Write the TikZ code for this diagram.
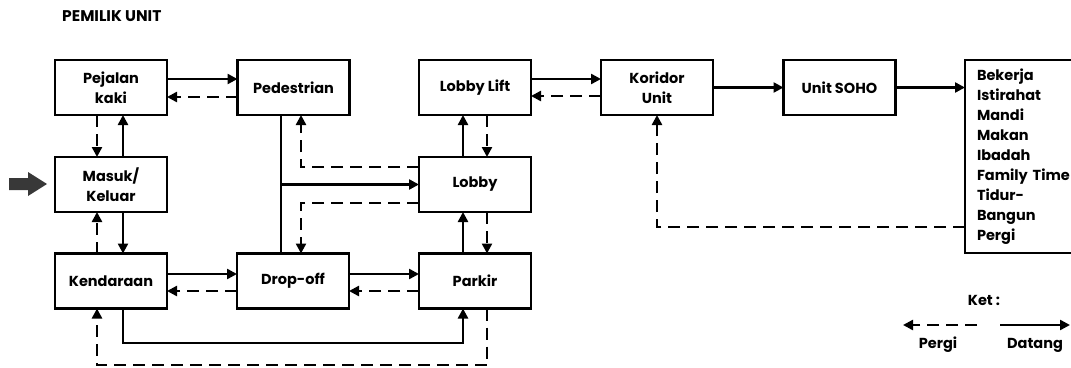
\documentclass[tikz,border=0pt]{standalone}
\usepackage{fontspec}
\setmainfont{Poppins}
\usetikzlibrary{arrows.meta}
\begin{document}
\begin{tikzpicture}[x=1pt,y=-1pt,
  box/.style={draw, line width=2.5pt, minimum width=112pt, minimum height=55pt, align=center, inner sep=0pt, outer sep=0pt, font=\bfseries\fontsize{14.5}{20}\selectfont},
  lbl/.style={font=\bfseries\fontsize{14.5}{20}\selectfont, inner sep=0pt},
  sol/.style={line width=2.4pt, -{Triangle[length=10pt,width=10pt]}},
  dsh/.style={sol, dash pattern=on 12pt off 7pt},
  ln/.style={line width=2.4pt}]
\useasboundingbox (0,0) rectangle (1071,367);
\fill[white] (0,0) rectangle (1071,367);

\node[lbl, font=\bfseries\fontsize{15.5}{18}\selectfont, anchor=west] (title) at (62,16) {PEMILIK UNIT};

\node[box] (pej) at (111,87.5) {Pejalan\\kaki};
\node[box] (ped) at (293.5,87.5) {Pedestrian};
\node[box] (mas) at (111,184.5) {Masuk/\\Keluar};
\node[box] (ken) at (111,281) {Kendaraan};
\node[box] (drop) at (293,281) {Drop-off};
\node[box] (lift) at (475,87.5) {Lobby Lift};
\node[box] (lobby) at (475,184.5) {Lobby};
\node[box] (parkir) at (475,281) {Parkir};
\node[box] (kor) at (657,87.5) {Koridor\\Unit};
\node[box] (soho) at (839.5,87.5) {Unit SOHO};
\node[box, anchor=north west, minimum width=120pt, minimum height=193pt, text width=96pt, align=left, inner xsep=12pt] (act) at (965,60)
  {Bekerja\\Istirahat\\Mandi\\Makan\\Ibadah\\Family Time\\Tidur-\\Bangun\\Pergi};

% left entry arrow
\fill[black!78] (9,178) -- (28,178) -- (28,172) -- (47,184) -- (28,196) -- (28,190) -- (9,190) -- cycle;

% Pejalan <-> Pedestrian
\draw[sol] ([yshift=8.5pt]pej.east) -- ([yshift=8.5pt]ped.west);
\draw[dsh] ([yshift=-9.5pt]ped.west) -- ([yshift=-9.5pt]pej.east);
% Pejalan <-> Masuk
\draw[dsh] ([xshift=-14pt]pej.south) -- ([xshift=-14pt]mas.north);
\draw[sol] ([xshift=12pt]mas.north) -- ([xshift=12pt]pej.south);
% Masuk <-> Kendaraan
\draw[dsh] ([xshift=-14pt]ken.north) -- ([xshift=-14pt]mas.south);
\draw[sol] ([xshift=12pt]mas.south) -- ([xshift=12pt]ken.north);
% Kendaraan <-> Drop-off
\draw[sol] ([yshift=7pt]ken.east) -- ([yshift=7pt]drop.west);
\draw[dsh] ([yshift=-10pt]drop.west) -- ([yshift=-10pt]ken.east);
% Drop-off <-> Parkir
\draw[sol] ([yshift=7pt]drop.east) -- ([yshift=7pt]parkir.west);
\draw[dsh] ([yshift=-10pt]parkir.west) -- ([yshift=-10pt]drop.east);
% bottom loops
\coordinate (ysol) at (0,343);
\coordinate (ydash) at (0,365);
\coordinate (kenS) at ([xshift=12pt]ken.south);
\coordinate (kenD) at ([xshift=-14pt]ken.south);
\coordinate (pkS) at ([xshift=-12pt]parkir.south);
\coordinate (pkD) at ([xshift=12pt]parkir.south);
\draw[sol] (kenS) -- (kenS |- ysol) -- (pkS |- ysol) -- (pkS);
\draw[dsh] (pkD) -- (pkD |- ydash) -- (kenD |- ydash) -- (kenD);
% Pedestrian - Drop-off trunk and branch to Lobby
\coordinate (pedS) at ([xshift=-12.5pt]ped.south);
\draw[ln] (pedS) -- (pedS |- drop.north);
\draw[sol] (pedS |- lobby.west) -- (lobby.west);
% dashed from Lobby to Pedestrian and Drop-off
\coordinate (pedD) at ([xshift=7.5pt]ped.south);
\coordinate (lobU) at ([yshift=17.5pt]lobby.west);
\coordinate (lobL) at ([yshift=-18.5pt]lobby.west);
\draw[dsh] (lobU) -- (pedD |- lobU) -- (pedD);
\draw[dsh] (lobL) -- (pedD |- lobL) -- (pedD |- drop.north);
% Lobby <-> Lobby Lift
\draw[sol] ([xshift=-12pt]lobby.north) -- ([xshift=-12pt]lift.south);
\draw[dsh] ([xshift=12pt]lift.south) -- ([xshift=12pt]lobby.north);
% Parkir <-> Lobby
\draw[sol] ([xshift=-12pt]parkir.north) -- ([xshift=-12pt]lobby.south);
\draw[dsh] ([xshift=12pt]lobby.south) -- ([xshift=12pt]parkir.north);
% Lobby Lift <-> Koridor
\draw[sol] ([yshift=8.5pt]lift.east) -- ([yshift=8.5pt]kor.west);
\draw[dsh] ([yshift=-8.5pt]kor.west) -- ([yshift=-8.5pt]lift.east);
% Koridor -> SOHO -> activities
\draw[sol] (kor.east) -- (soho.west);
\draw[sol] (soho.east) -- (act.west |- soho.east);
% activities back to Koridor
\coordinate (actD) at (965,227);
\draw[dsh] (actD) -- (kor.south |- actD) -- (kor.south);

% legend
\node[lbl] (ket) at (984,300) {Ket :};
\coordinate (lg1) at (977,325);
\coordinate (lg2) at (903,325);
\coordinate (lg3) at (1000,325);
\coordinate (lg4) at (1070,325);
\draw[dsh] (lg1) -- (lg2);
\draw[sol] (lg3) -- (lg4);
\node[lbl] (pergi) at (938,345) {Pergi};
\node[lbl] (datang) at (1035,345) {Datang};
\end{tikzpicture}
\end{document}
